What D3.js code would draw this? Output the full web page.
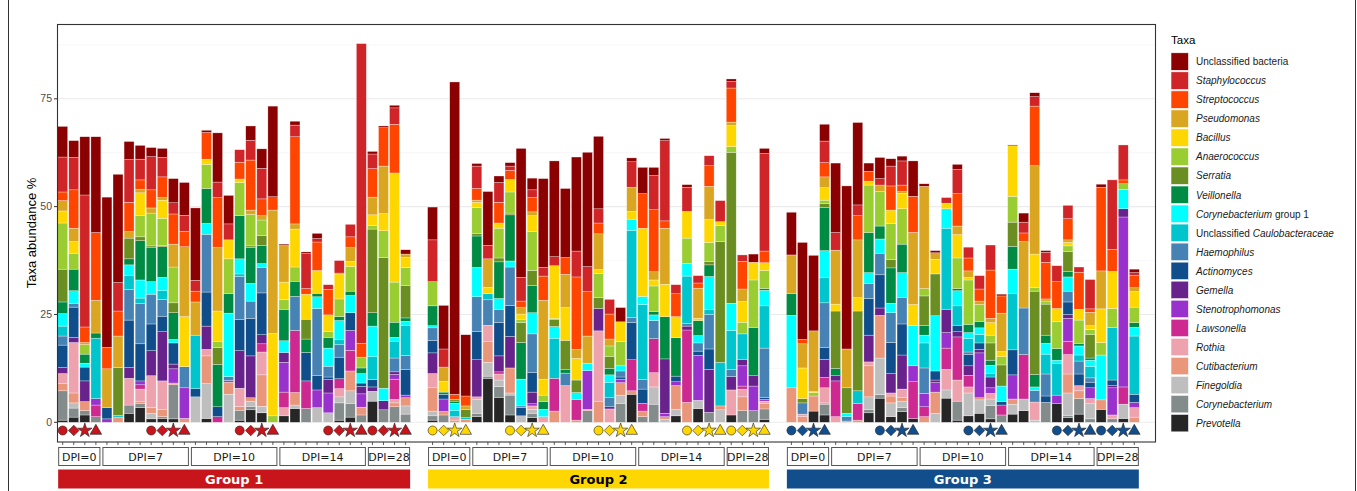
<!DOCTYPE html>
<html>
<head>
<meta charset="utf-8">
<script src="https://cdn.jsdelivr.net/npm/d3@7"></script>
<style>
  body { margin: 0; background: #fff; }
  svg { display: block; }
</style>
</head>
<body>
<svg id="chart" width="1357" height="491"></svg>
<script>
// taxa, top of stack first (legend order)
const taxa = ["Unclassified bacteria", "Staphylococcus", "Streptococcus", "Pseudomonas", "Bacillus",
  "Anaerococcus", "Serratia", "Veillonella", "Corynebacterium group 1", "Unclassified Caulobacteraceae",
  "Haemophilus", "Actinomyces", "Gemella", "Stenotrophomonas", "Lawsonella", "Rothia",
  "Cutibacterium", "Finegoldia", "Corynebacterium", "Prevotella"];
const taxaColors = ["#8B0000", "#CF2528", "#FF4500", "#DAA520", "#FFD700", "#9ACD32", "#6B8E23",
  "#008B45", "#00FFFF", "#00C5CD", "#4682B4", "#104E8B", "#68228B", "#9932CC", "#CD2990",
  "#EEA2AD", "#E9967A", "#BEBEBE", "#838B8B", "#262626"];

const groupNames = ["Group 1", "Group 2", "Group 3"];
const groupColors = ["#C8141B", "#FFD700", "#124E8B"];
const groupTextColors = ["#fff", "#000", "#fff"];
const dpiLabels = ["DPI=0", "DPI=7", "DPI=10", "DPI=14", "DPI=28"];
const dpiCounts = [[4, 8, 8, 8, 4], [4, 7, 8, 8, 4], [4, 8, 8, 8, 4]];
const yTicks = [0, 25, 50, 75];

// one row per sample, values in taxa order
const group1Values = [
  [7.1,8.1,2.0,2.4,2.8,10.7,7.6,2.7,2.9,2.3,2.1,5.2,1.4,0,0,2.3,1.7,0,6.8,0.5],
  [3.9,7.5,8.9,3.1,2.7,3.7,0,5.0,3.0,0,0.8,7.0,1.2,0,0,11.7,2.3,1.2,2.1,1.2],
  [13.5,30.6,3.6,0.5,0,2.2,0,2.1,0.9,0,0,3.2,4.8,0,0,0,2.1,0,1.0,1.7],
  [22.2,0,15.7,7.6,0,0,0,1.2,0,14.0,0,0,0,1.5,2.7,0,0,0,1.3,0],
  [34.8,0,5.0,9.0,0,0,0,0,0,0,0,2.6,0,0.8,0,0,0,0,0,0],
  [25.1,6.6,5.8,7.3,0,0,11.1,0,0,0.4,0,0,0,0,0,0,1.2,0,0,0],
  [4.2,9.9,6.8,1.5,0,0,4.8,1.4,2.5,3.2,7.1,11.0,2.5,0,0,6.2,0,0,1.9,2.1],
  [3.2,4.8,2.2,0.8,5.2,5.0,0.9,9.1,4.2,1.2,9.4,8.6,0,0.9,1.0,2.9,0.4,0,1.0,3.4],
  [2.1,7.7,4.2,1.2,0,7.6,0.3,8.0,2.9,0,6.9,6.2,5.8,0,0,7.4,1.3,1.3,0,0.8],
  [2.1,4.5,4.8,0.6,4.2,6.3,0.3,7.1,3.1,2.0,3.9,3.6,11.4,0,0,6.6,1.7,0,0.4,0.9],
  [5.6,2.6,7.0,5.3,0,8.3,2.3,6.2,0.8,0,0,4.9,1.1,3.3,0,0,0.4,0,7.9,0.8],
  [7.6,3.7,3.6,16.2,11.6,0,0,0,0,0,4.9,0,0,7.1,0,0,0.9,0,0,0],
  [16.8,2.5,2.5,7.7,0,0,0,0,0,12.4,0,1.9,0,0,0,0,0,5.9,0,0],
  [0.5,0,6.2,0,1.2,5.6,0,8.1,2.5,0,13.4,7.9,5.4,0,0,1.5,6.4,8.1,0,0.9],
  [11.4,3.6,11.6,14.7,7.0,1.5,3.9,9.8,0,0,0,2.3,0,0,1.3,0,0,0,0,0],
  [6.6,3.7,0,0,4.4,8.1,0,4.5,14.7,0,0.9,0,0,0.4,0,0,2.8,6.5,0,0],
  [0,2.9,3.9,0,0.8,7.7,0,10.0,3.5,0.6,10.0,7.2,8.7,0,0,4.2,0.9,0,2.3,0.5],
  [3.3,4.6,11.6,1.0,0,7.3,0.4,8.3,4.1,0,4.0,8.7,9.7,0,0,0,0.8,1.2,0.8,2.9],
  [4.5,7.1,3.9,1.0,0,3.6,2.3,4.2,0.9,0,5.9,9.7,2.1,0,1.9,5.3,7.3,1.5,0,2.2],
  [21.0,0,3.1,28.6,19.1,1.5,0,0,0,0,0,0,0,0,0,0,0,0,0,0],
  [0.3,0,0,8.5,4.1,2.2,0,7.3,2.7,0,0,0,2.3,6.9,3.6,1.9,0,0,0,1.5],
  [0.9,2.7,20.2,1.2,8.8,3.3,0,3.5,0,0,7.9,0,0,0,14.4,0,2.9,0.8,0,3.2],
  [0.4,8.1,1.3,0,5.8,0,4.6,3.1,0,0,0,6.6,0,0,6.4,0,0,0,3.2,0],
  [1.2,0.8,6.6,0,5.3,0,0,0.8,2.7,0,15.6,3.3,0,4.1,0,0,0,3.4,0,0],
  [0,1.1,5.9,0,3.9,1.3,0,2.5,4.2,0,2.5,0.6,3.1,4.6,0,0,0,2.2,0,0],
  [0,2.9,0.2,0,5.8,4.1,0,0.9,4.4,1.2,2.9,5.0,0,0,2.3,1.9,0,1.4,4.0,0.5],
  [0,2.9,2.5,3.2,1.2,5.7,0,1.0,4.0,0,0,4.1,0,4.6,4.8,0,4.6,2.9,3.2,1.2],
  [0,69.5,3.2,0,0,2.5,0,1.3,2.2,0,0,0.8,1.7,3.1,0,0,1.8,0,1.7,0],
  [0.6,3.4,6.6,4.1,2.5,0.8,19.4,3.1,7.1,5.3,0,1.7,1.0,0,0,0,0,2.3,0,4.9],
  [0.4,0,8.9,11.0,4.0,6.2,30.3,0,2.9,0,0,0,2.1,0,0,0,0,0,2.9,0],
  [0.6,3.8,11.3,0,25.3,9.3,0,3.5,0.9,3.9,3.2,0,0.6,1.1,4.7,0.8,0.9,0,3.6,0],
  [1.0,0,0,0.8,2.3,4.2,7.5,0.8,1.0,6.9,3.2,6.0,0,0.6,0,0,1.9,1.9,1.9,0]
];
const group2Values = [
  [7.6,9.7,0,0,0,5.6,0,4.6,0.5,0,2.9,2.9,4.8,0,0,3.3,5.4,1.1,1.0,0.5],
  [10.1,4.2,0,3.3,2.5,0,0,0.5,0,0,0,1.1,0,2.9,0,0,0.8,0,1.7,0],
  [72.4,0,1.2,0,0,0,0.4,0.5,1.7,1.4,0,0,0,0,0,0.8,0.5,0,0,0],
  [14.2,0,2.3,0.8,0,0,1.9,0,0,0.4,0,0,0,0,0,0,0.7,0,0,0],
  [0.6,5.2,2.7,0.5,1.2,6.0,0.6,7.3,6.8,0,8.0,6.6,8.6,0,0,0.6,0,3.2,0.8,1.3],
  [12.5,3.1,0,6.6,1.5,0,0,0,0,1.4,5.9,0,0,0,0,3.7,4.9,3.2,0.5,10.2],
  [1.5,4.6,4.8,0,1.2,6.9,0.9,8.5,2.5,0,3.1,7.7,3.7,0,0.5,1.4,0,1.5,2.5,5.8],
  [0.8,1.0,2.1,0,2.9,4.9,0.4,10.7,1.4,0,8.9,7.2,7.3,0,0,0,5.8,0.5,4.6,1.7],
  [29.9,5.5,1.5,1.5,1.2,0.8,4.6,8.5,6.2,0,0.4,1.9,0,0,0,0,0,1.5,0,0],
  [2.7,1.8,3.3,0.9,3.7,9.0,3.5,6.3,4.9,0,9.0,4.5,2.7,0.5,0,0.8,0,0.9,1.0,1.1],
  [20.6,2.0,5.6,18.3,3.7,1.5,0,1.8,1.7,0,0,0,0,0,0,1.3,0,0,0,0],
  [22.2,2.1,0,0,12.2,0.2,1.7,0,2.7,9.3,0,0,0,0,7.6,0,2.6,0,0,0],
  [16.0,0,3.9,7.7,7.6,0,6.8,0.8,0,0,2.9,0,0,0,0,8.5,0,0,0,0],
  [21.8,6.0,16.8,2.1,5.0,0,2.9,0,1.6,0,0,0,0,0,4.8,0,0.5,0,0,0],
  [26.5,5.8,10.3,6.3,0,0,0,0,1.7,0,0,0,0,9.0,0,0,0.3,0,2.7,0],
  [16.8,3.3,2.5,8.3,0.9,5.6,2.5,0,0,0,0,0,5.2,0,0,16.3,4.9,0,0,0],
  [0,3.4,5.8,1.6,0,2.5,2.7,1.5,1.8,3.5,2.1,0,0.5,0,0,3.1,0,0,0,0],
  [3.3,0,0,0,4.6,5.6,0,0,1.2,0,1.4,0.5,0,0.8,0,0,2.9,1.9,4.4,0],
  [0.9,5.9,0,5.6,1.8,0,0,0,2.6,20.2,1.2,8.6,0,0,7.2,0,0.8,0,0,6.5],
  [6.1,0,8.0,0,15.8,0,0,0,1.9,17.4,2.2,3.3,0,0,1.8,0,1.3,0,1.3,0],
  [1.9,7.9,14.4,1.9,1.4,5.9,0,0.8,1.3,0,4.2,0,0,0,7.9,3.3,0,4.0,4.2,0],
  [0.5,18.6,1.7,13.0,7.5,0,0,9.8,0,0,0,0,12.6,0.8,0,0,0.6,0.7,0,0],
  [0,2.1,5.3,0,4.9,0,0,8.9,0,0,0,1.3,0,0.9,0,0,5.5,1.5,0,1.5],
  [0.6,5.6,0,0,6.2,5.9,0,0,2.9,11.0,0.6,0,0.9,0,16.8,0,4.6,0,0,0],
  [0,1.7,1.2,7.0,0.5,0,0,3.5,1.7,0,1.9,1.0,0,10.4,0,0,0,1.9,0,3.2],
  [0,2.3,4.8,7.7,5.3,4.4,0.8,2.7,7.6,1.2,8.0,4.7,10.0,0,0,0,0,0,2.3,0],
  [0,4.9,0,0,0.9,3.7,28.0,0,0,10.1,0,0,0,0,0,0,0.9,2.9,0,0],
  [0.6,1.5,7.9,0.8,4.9,1.3,35.0,0,6.3,9.0,1.7,0,3.1,0,0,5.8,0,0,0,1.7],
  [0,1.5,6.4,2.9,4.8,2.7,0,0,0,5.9,0,0,1.5,4.7,0.7,1.8,3.2,0,2.7,0],
  [1.9,0,0,0,4.1,11.0,0,11.2,0,0,0,0,2.4,5.7,0,0,0,0,2.7,0],
  [1.2,22.6,2.7,0,1.8,4.2,0,0.4,3.6,9.8,11.4,0.5,0,0.4,0,0.5,1.3,0,2.4,0.7]
];
const group3Values = [
  [9.9,0,0,9.0,0,0,0,5.0,16.8,0,0,0,0,0,0,0,8.0,0,0,0],
  [22.5,0,1.0,5.6,7.1,0,1.0,0,0,0,2.6,0,0,0,0,0.6,1.3,0,0,0],
  [17.5,0,0,14.1,0.2,0.8,0,0,0,0,0,0,0,0,0,0,3.5,0,0,2.6],
  [3.9,5.0,3.3,2.5,2.9,0.8,0.9,10.0,6.3,5.8,10.4,2.7,4.2,0,2.4,3.5,0.3,0,2.5,1.7],
  [16.1,4.1,0,12.5,1.6,0,13.3,1.7,0,0,0,0,1.2,0,8.3,1.3,0,0,0,0],
  [37.8,0,0,9.0,0,0,5.9,0,0.8,0,1.0,0,0,0,0,0,0.3,0,0,0],
  [19.1,2.5,5.6,13.4,3.1,0,18.5,0,0,2.9,0,0,0,0,3.9,0,0.5,0,0,0],
  [1.9,0,2.3,0,0.9,11.0,0,9.3,2.5,0,3.5,8.5,6.2,0,0,0.9,7.2,2.9,0.8,2.2],
  [4.9,1.5,0,1.5,0,8.0,0,3.0,3.3,0,5.0,7.7,1.7,0,0,0,9.9,8.5,0.8,5.6],
  [1.7,4.6,5.6,0,3.1,8.4,1.9,8.2,2.2,0,6.9,7.2,4.5,0,0,0.7,1.6,3.2,0,1.3],
  [1.1,5.6,1.5,0.4,3.6,8.2,0,6.6,5.8,0,6.1,7.2,7.9,0,0,2.0,0.8,1.5,0.9,2.5],
  [8.2,0,8.4,16.7,4.9,0,0,0,9.3,0,0,0,0,3.7,8.5,0,0,0,0,0.9],
  [0.6,0,0,23.7,0,1.7,6.8,2.3,1.8,5.8,5.9,0,0,3.1,2.3,0,1.3,0,0,0],
  [0.5,0,0,1.5,3.4,0,9.7,0,12.8,0,0,2.1,0.6,2.2,0,0,4.9,2.1,0,0],
  [0,1.3,0,0,1.3,0,0,0,4.5,18.8,0,0,5.4,3.6,4.9,4.8,0,1.9,0,5.6],
  [1.2,5.6,7.5,2.0,5.4,7.1,0,0.5,3.5,4.5,0,1.5,1.2,0,10.0,4.9,0,0,4.4,0.5],
  [0,2.5,3.0,1.5,0.6,10.3,0,1.9,1.4,3.1,0.6,2.6,2.2,0,2.7,1.4,0,5.3,0,1.5],
  [0,3.1,2.8,0.8,0,3.9,0,1.5,1.5,2.0,0,1.5,0.8,10.4,0,0,0.5,3.1,0,2.1],
  [0,5.8,11.2,1.0,2.9,1.8,4.0,1.2,1.9,0.8,0,0,2.5,1.3,0,1.3,0,1.5,3.1,0.8],
  [0.4,0,4.0,8.9,1.2,1.9,4.9,0,3.6,0,0,0.8,0,0,2.3,0,0,0,1.7,0],
  [0.2,0,0,0,11.7,6.0,5.6,5.3,5.7,13.0,0,5.8,0,5.6,0,0,1.2,2.3,0,1.9],
  [2.1,2.5,2.0,15.4,0,0,0,0,0,0,10.8,0,0,0,10.3,0,0,2.7,0,2.7],
  [0.9,2.2,13.8,20.5,7.8,0.8,19.3,2.9,0.8,0,2.7,0,0,0,0,4.2,0,0.5,0,0],
  [0.4,2.3,8.5,0.5,0,0.7,7.2,1.9,2.5,4.6,5.1,1.5,0,0,0,0,0,0,4.6,0],
  [0,3.7,6.2,0,3.1,6.2,0,2.7,0.8,7.3,0,0,0,1.9,0,0,0,0,0,4.4],
  [0,3.1,4.9,0.6,0.8,1.3,4.6,1.3,3.3,0,2.5,2.9,0.9,5.3,3.1,4.5,4.4,5.2,0.5,1.1],
  [0,1.2,8.6,0,2.5,5.4,0,0.6,2.1,1.4,3.0,2.7,0,0,0,1.2,1.8,0,3.6,1.9],
  [0,6.8,0.8,3.1,0.9,1.2,5.4,0.5,1.4,2.7,1.0,1.3,0,2.5,0,1.2,0,3.5,0.8,0],
  [0.7,0,19.4,8.8,7.8,2.9,0,0,10.4,0,0,0,0,0,0,0,2.2,0,0,3.0],
  [0,16.1,5.1,0,8.6,4.4,0,0,0,12.2,0,1.3,0.5,6.3,0,0.9,0,0,0.8,0],
  [0,8.1,0.9,0,0,1.3,0,0,4.5,0,0,0,1.9,39.4,4.0,0,0,3.3,0,0.9],
  [0.8,0.6,2.9,0.9,3.6,3.6,0,1.1,2.0,13.5,0,1.9,0,1.2,0,2.2,1.2,0,0,0]
];

const shapeTypes = [d3.symbolCircle, d3.symbolDiamond2, d3.symbolStar, d3.symbolTriangle];
const shapeSizes = [64, 72, 64, 58];
const groupGap = 1.44; // extra slots between groups

const svg = d3.select("#chart");
const panel = { left: 57, right: 1155, top: 24, bottom: 441.5 };

// build one row per bar
let rows = [];
let blocks = [];
[group1Values, group2Values, group3Values].forEach(function(vals, g) {
  let i = 0;
  dpiCounts[g].forEach(function(n, d) {
    let start = rows.length;
    for (let k = 0; k < n; k++, i++) {
      let row = { group: g, dpi: d, pos: rows.length + g * groupGap, shape: k >= n - 4 ? k - (n - 4) : -1 };
      taxa.forEach(function(t, j) { row[t] = vals[i][j]; });
      rows.push(row);
    }
    blocks.push({ group: g, label: dpiLabels[d], first: rows[start].pos, last: rows[rows.length - 1].pos });
  });
});

let x = d3.scaleLinear()
  .domain([0, rows[rows.length - 1].pos])
  .range([62.7, 1134.3]);
let step = x(1) - x(0);
let barW = step * 0.9;

let y = d3.scaleLinear()
  .domain([0, 75])
  .range([422.3, 98.8]);

// outer figure frame lines
svg.append("line").attr("x1", 8.5).attr("x2", 8.5).attr("y1", 0).attr("y2", 491)
  .attr("stroke", "#333").attr("stroke-width", 1);
svg.append("line").attr("x1", 1355.5).attr("x2", 1355.5).attr("y1", 0).attr("y2", 491)
  .attr("stroke", "#333").attr("stroke-width", 1);

// grid
let grid = svg.append("g");
[12.5, 37.5, 62.5, 87.5].forEach(function(v) {
  grid.append("line").attr("x1", panel.left).attr("x2", panel.right)
    .attr("y1", y(v)).attr("y2", y(v)).attr("stroke", "#F2F2F2").attr("stroke-width", 0.6);
});
yTicks.forEach(function(v) {
  grid.append("line").attr("x1", panel.left).attr("x2", panel.right)
    .attr("y1", y(v)).attr("y2", y(v)).attr("stroke", "#EBEBEB").attr("stroke-width", 1.1);
});

// stacked bars, bottom taxon first
let stack = d3.stack().keys(taxa.slice().reverse());
let series = stack(rows);

svg.append("g")
  .attr("class", "bars")
  .selectAll("g")
  .data(series)
  .enter().append("g")
  .attr("fill", function(s) { return taxaColors[taxa.indexOf(s.key)]; })
  .selectAll("rect")
  .data(function(s) { return s.filter(function(d) { return d[1] - d[0] > 0; }); })
  .enter().append("rect")
  .attr("x", function(d) { return x(d.data.pos) - barW / 2; })
  .attr("width", barW)
  .attr("y", function(d) { return y(d[1]); })
  .attr("height", function(d) { return y(d[0]) - y(d[1]); })
  .attr("stroke", "#fff")
  .attr("stroke-opacity", 0.6)
  .attr("stroke-width", 0.5);

// sample shapes below bars
svg.append("g")
  .selectAll("path")
  .data(rows.filter(function(r) { return r.shape >= 0; }))
  .enter().append("path")
  .attr("transform", function(d) { return "translate(" + x(d.pos) + "," + (d.shape == 3 ? 431 : 430.5) + ")"; })
  .attr("d", function(d) {
    return d3.symbol().type(shapeTypes[d.shape]).size(shapeSizes[d.shape])();
  })
  .attr("fill", function(d) { return groupColors[d.group]; })
  .attr("stroke", "#222")
  .attr("stroke-width", 0.6);

// panel border
svg.append("rect")
  .attr("x", panel.left + 0.5).attr("y", panel.top + 0.5)
  .attr("width", panel.right - panel.left).attr("height", panel.bottom - panel.top)
  .attr("fill", "none").attr("stroke", "#333").attr("stroke-width", 1.1);

// y axis
let yAxis = svg.append("g");
yTicks.forEach(function(v) {
  yAxis.append("line").attr("x1", panel.left - 3).attr("x2", panel.left)
    .attr("y1", y(v)).attr("y2", y(v)).attr("stroke", "#333");
  yAxis.append("text").attr("x", panel.left - 5).attr("y", y(v)).attr("dy", "0.35em")
    .attr("text-anchor", "end").attr("font-family", "Liberation Sans, Arial, sans-serif")
    .attr("font-size", 10.5).attr("fill", "#4D4D4D").text(v);
});
svg.append("text")
  .attr("transform", "translate(36,233) rotate(-90)")
  .attr("text-anchor", "middle")
  .attr("font-family", "Liberation Sans, Arial, sans-serif")
  .attr("font-size", 13).attr("fill", "#000")
  .text("Taxa abundance %");

// x ticks
svg.append("g").selectAll("line")
  .data(rows).enter().append("line")
  .attr("x1", function(d) { return x(d.pos); }).attr("x2", function(d) { return x(d.pos); })
  .attr("y1", panel.bottom + 0.5).attr("y2", panel.bottom + 3.5)
  .attr("stroke", "#333").attr("stroke-width", 0.8);

// DPI boxes
let dpiG = svg.append("g").selectAll("g").data(blocks).enter().append("g");
dpiG.append("rect")
  .attr("x", function(d) { return x(d.first) - step / 2 + 1.5; })
  .attr("y", 447.5)
  .attr("width", function(d) { return x(d.last) - x(d.first) + step - 3; })
  .attr("height", 18)
  .attr("fill", "#fff").attr("stroke", "#555").attr("stroke-width", 1);
dpiG.append("text")
  .attr("x", function(d) { return (x(d.first) + x(d.last)) / 2; })
  .attr("y", 457).attr("dy", "0.35em")
  .attr("text-anchor", "middle")
  .attr("font-family", "DejaVu Sans, Verdana, sans-serif")
  .attr("font-size", 11).attr("fill", "#1a1a1a")
  .text(function(d) { return d.label; });

// group bands
let groupG = svg.append("g").selectAll("g").data(groupNames).enter().append("g");
groupG.append("rect")
  .attr("x", function(d, g) { return x(blocks[g * 5].first) - step / 2 + 1; })
  .attr("y", 469.5)
  .attr("width", function(d, g) { return x(blocks[g * 5 + 4].last) - x(blocks[g * 5].first) + step - 2; })
  .attr("height", 19)
  .attr("fill", function(d, g) { return groupColors[g]; });
groupG.append("text")
  .attr("x", function(d, g) { return (x(blocks[g * 5].first) + x(blocks[g * 5 + 4].last)) / 2; })
  .attr("y", 479).attr("dy", "0.36em")
  .attr("text-anchor", "middle")
  .attr("font-family", "DejaVu Sans, Verdana, sans-serif")
  .attr("font-weight", "bold").attr("font-size", 13)
  .attr("fill", function(d, g) { return groupTextColors[g]; })
  .text(function(d) { return d; });

// legend
let legend = svg.append("g").attr("font-family", "Liberation Sans, Arial, sans-serif");
legend.append("text").attr("x", 1171).attr("y", 40).attr("dy", "0.35em")
  .attr("font-size", 11.5).attr("fill", "#000").text("Taxa");
let item = legend.selectAll("g.item").data(taxa).enter().append("g")
  .attr("class", "item")
  .attr("transform", function(d, i) { return "translate(1171," + (52.8 + i * 19.03) + ")"; });
item.append("rect").attr("width", 17.5).attr("height", 17.5)
  .attr("fill", function(d, i) { return taxaColors[i]; })
  .attr("stroke", "#fff").attr("stroke-width", 0.6);
item.append("text").attr("x", 25).attr("y", 9).attr("dy", "0.35em")
  .attr("font-size", 10).attr("fill", "#1a1a1a")
  .each(function(d) {
    let t = d3.select(this);
    if (d == "Unclassified bacteria") {
      t.text(d);
    } else if (d.indexOf("Unclassified ") == 0) {
      t.append("tspan").text("Unclassified ");
      t.append("tspan").attr("font-style", "italic").text(d.replace("Unclassified ", ""));
    } else if (d.indexOf(" group 1") > 0) {
      t.append("tspan").attr("font-style", "italic").text(d.replace(" group 1", ""));
      t.append("tspan").text(" group 1");
    } else {
      t.attr("font-style", "italic").text(d);
    }
  });
</script>
</body>
</html>
